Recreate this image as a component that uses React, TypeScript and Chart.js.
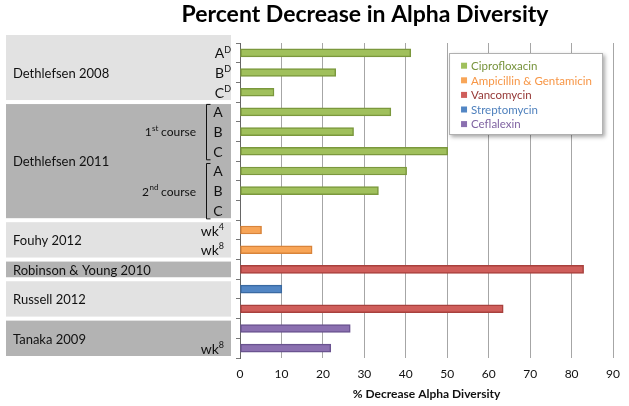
import React, { useEffect, useRef } from 'react';
import { Chart, registerables } from 'chart.js';

Chart.register(...registerables);

// ---------- DATA ----------
const rowKeys = [
  'D08-A', 'D08-B', 'D08-C',
  'D11-1A', 'D11-1B', 'D11-1C', 'D11-2A', 'D11-2B', 'D11-2C',
  'F12-wk4', 'F12-wk8',
  'RY10',
  'R12-S', 'R12-V',
  'T09-a', 'T09-wk8',
];

const ciprofloxacin = [41.2, 23.1, 8.2, 36.4, 27.4, 50.1, 40.2, 33.4, null, null, null, null, null, null, null, null];
const ampicillinGentamicin = [null, null, null, null, null, null, null, null, null, 5.2, 17.4, null, null, null, null, null];
const vancomycin = [null, null, null, null, null, null, null, null, null, null, null, 82.9, null, 63.5, null, null];
const streptomycin = [null, null, null, null, null, null, null, null, null, null, null, null, 10.1, null, null, null];
const ceflalexin = [null, null, null, null, null, null, null, null, null, null, null, null, null, null, 26.6, 21.9];

const seriesNames = ['Ciprofloxacin', 'Ampicillin & Gentamicin', 'Vancomycin', 'Streptomycin', 'Ceflalexin'];
const seriesData = [ciprofloxacin, ampicillinGentamicin, vancomycin, streptomycin, ceflalexin];

const studyNames = ['Dethlefsen 2008', 'Dethlefsen 2011', 'Fouhy 2012', 'Robinson & Young 2010', 'Russell 2012', 'Tanaka 2009'];
const studyFirstRow = [0, 3, 9, 11, 12, 14];
const studyLastRow = [2, 8, 10, 11, 13, 15];

const rowTagText = ['A', 'B', 'C', 'A', 'B', 'C', 'A', 'B', 'C', 'wk', 'wk', '', '', '', '', 'wk'];
const rowTagSup = ['D', 'D', 'D', '', '', '', '', '', '', '4', '8', '', '', '', '', '8'];

const courseNum = ['1', '2'];
const courseSup = ['st', 'nd'];
const courseWord = [' course', ' course'];
const courseFirstRow = [3, 6];
const courseLastRow = [5, 8];

const titleText = 'Percent Decrease in Alpha Diversity';
const xTitleText = '% Decrease Alpha Diversity';
const xMin = 0;
const xMax = 90;
const xStep = 10;

// ---------- STYLE ----------
const FONT = 'Lato, "Open Sans", sans-serif';
const fillColors = ['#a0c05c', '#f8a557', '#cf5e5b', '#5286c4', '#8b70b0'];
const borderColors = ['#7b983d', '#d9843a', '#a8403d', '#3a6aa2', '#6a5390'];
const legendTextColors = ['#77933c', '#f79646', '#953735', '#4f81bd', '#8064a2'];
const studyShades = ['#e2e2e2', '#b3b3b3', '#e2e2e2', '#b3b3b3', '#e2e2e2', '#b3b3b3'];

function drawSup(ctx: CanvasRenderingContext2D, main: string, sup: string, right: number, y: number, mainSize: number, supSize: number) {
  ctx.textAlign = 'left';
  ctx.textBaseline = 'middle';
  ctx.font = `${supSize}px ${FONT}`;
  const sw = sup ? ctx.measureText(sup).width : 0;
  ctx.font = `${mainSize}px ${FONT}`;
  const mw = ctx.measureText(main).width;
  const x0 = right - sw - mw;
  ctx.fillText(main, x0, y);
  if (sup) {
    ctx.font = `${supSize}px ${FONT}`;
    ctx.fillText(sup, x0 + mw, y - mainSize * 0.3);
  }
}

const panelPlugin = {
  id: 'panelPlugin',
  afterDraw(chart: any) {
    const ctx: CanvasRenderingContext2D = chart.ctx;
    const y = chart.scales.y;
    const area = chart.chartArea;
    const rowH = y.getPixelForValue(1) - y.getPixelForValue(0);
    ctx.save();

    // Title
    ctx.fillStyle = '#000';
    ctx.font = `bold 23px ${FONT}`;
    ctx.textAlign = 'center';
    ctx.textBaseline = 'middle';
    ctx.fillText(titleText, 365, 15);

    // Study boxes
    for (let i = 0; i < studyNames.length; i++) {
      const top = y.getPixelForValue(studyFirstRow[i]) - rowH / 2 + 2 - (i === 0 ? 10 : 0);
      const bottom = y.getPixelForValue(studyLastRow[i]) + rowH / 2 - 2;
      ctx.fillStyle = studyShades[i];
      ctx.fillRect(6, top, 225, bottom - top);
      const midRows = (y.getPixelForValue(studyFirstRow[i]) + y.getPixelForValue(studyLastRow[i])) / 2;
      ctx.fillStyle = '#111';
      ctx.font = `13px ${FONT}`;
      ctx.textAlign = 'left';
      ctx.textBaseline = 'middle';
      ctx.fillText(studyNames[i], 13, midRows + 1);
    }

    // Row tags
    ctx.fillStyle = '#111';
    for (let r = 0; r < rowKeys.length; r++) {
      if (!rowTagText[r]) continue;
      const py = y.getPixelForValue(r);
      const inBracket = r >= 3 && r <= 8;
      if (inBracket) {
        ctx.font = `14px ${FONT}`;
        ctx.textAlign = 'center';
        ctx.textBaseline = 'middle';
        ctx.fillText(rowTagText[r], 218, py + 1);
      } else {
        const right = rowTagSup[r] === 'D' ? 231 : 224;
        drawSup(ctx, rowTagText[r], rowTagSup[r], right, py + 1, 14, 9);
      }
    }

    // Course brackets and labels
    ctx.strokeStyle = '#111';
    ctx.lineWidth = 1;
    for (let c = 0; c < courseNum.length; c++) {
      const t = y.getPixelForValue(courseFirstRow[c]) - 8;
      const b = y.getPixelForValue(courseLastRow[c]) + 8;
      ctx.beginPath();
      ctx.moveTo(210.5, t + 0.5);
      ctx.lineTo(206.5, t + 0.5);
      ctx.lineTo(206.5, b + 0.5);
      ctx.lineTo(210.5, b + 0.5);
      ctx.stroke();
      const midY = y.getPixelForValue((courseFirstRow[c] + courseLastRow[c]) / 2);
      ctx.textBaseline = 'middle';
      ctx.textAlign = 'left';
      ctx.font = `12px ${FONT}`;
      const ww = ctx.measureText(courseWord[c]).width;
      const nw = ctx.measureText(courseNum[c]).width;
      ctx.font = `8px ${FONT}`;
      const sw = ctx.measureText(courseSup[c]).width;
      const right = 196;
      const x0 = right - ww - sw - nw;
      ctx.font = `12px ${FONT}`;
      ctx.fillText(courseNum[c], x0, midY + 1);
      ctx.fillText(courseWord[c], x0 + nw + sw, midY + 1);
      ctx.font = `8px ${FONT}`;
      ctx.fillText(courseSup[c], x0 + nw + 0.5, midY - 3);
    }

    // Legend
    const lx = area.right - 164;
    const ly = area.top + 10;
    const lw = 154;
    const lh = 82;
    ctx.save();
    ctx.shadowColor = 'rgba(0,0,0,0.35)';
    ctx.shadowBlur = 4;
    ctx.shadowOffsetX = 2;
    ctx.shadowOffsetY = 2;
    ctx.fillStyle = '#ffffff';
    ctx.fillRect(lx, ly, lw, lh);
    ctx.restore();
    ctx.strokeStyle = '#b0b0b0';
    ctx.lineWidth = 1;
    ctx.strokeRect(lx + 0.5, ly + 0.5, lw - 1, lh - 1);
    ctx.font = `11.5px ${FONT}`;
    ctx.textAlign = 'left';
    ctx.textBaseline = 'middle';
    for (let i = 0; i < seriesNames.length; i++) {
      const cy = ly + 12.7 + i * 14.6;
      ctx.fillStyle = fillColors[i];
      ctx.fillRect(lx + 12, cy - 3, 6, 6);
      ctx.fillStyle = legendTextColors[i];
      ctx.fillText(seriesNames[i], lx + 22, cy + 0.5);
    }

    ctx.restore();
  },
};

export default function App() {
  const ref = useRef<HTMLCanvasElement | null>(null);
  useEffect(() => {
    if (!ref.current) return;
    const chart = new Chart(ref.current, {
      type: 'bar',
      data: {
        labels: rowKeys,
        datasets: seriesNames.map((name, i) => ({
          label: name,
          data: seriesData[i] as any,
          backgroundColor: fillColors[i],
          borderColor: borderColors[i],
          borderWidth: 1.5,
          borderSkipped: false,
          barThickness: 8,
          grouped: false,
        })),
      },
      options: {
        indexAxis: 'y',
        animation: false,
        responsive: false,
        devicePixelRatio: 1,
        layout: { padding: { top: 43, right: 12, left: 0, bottom: 0 } },
        plugins: {
          legend: { display: false },
          title: { display: false },
          tooltip: { enabled: false },
        },
        scales: {
          x: {
            min: xMin,
            max: xMax,
            ticks: {
              stepSize: xStep,
              color: '#111',
              font: { family: FONT, size: 12 },
              padding: 9,
            },
            grid: { color: '#a6a6a6', drawTicks: false, lineWidth: 1 },
            border: { display: false },
            title: {
              display: true,
              text: xTitleText,
              color: '#111',
              font: { family: FONT, size: 12, weight: 'bold' },
              padding: { top: 0, bottom: 5 },
            },
            afterFit: (s: any) => { s.height = 48; },
          },
          y: {
            ticks: { display: false },
            grid: { offset: true, drawOnChartArea: false, drawTicks: true, tickLength: 4, color: '#777' },
            border: { display: true, color: '#666' },
            afterFit: (s: any) => { s.width = 240; },
          },
        },
      },
      plugins: [panelPlugin],
    } as any);
    return () => chart.destroy();
  }, []);
  return (
    <div style={{ position: 'absolute', left: 0, top: 0, width: 629, height: 406, background: '#fff' }}>
      <canvas ref={ref} width={629} height={406} />
    </div>
  );
}
